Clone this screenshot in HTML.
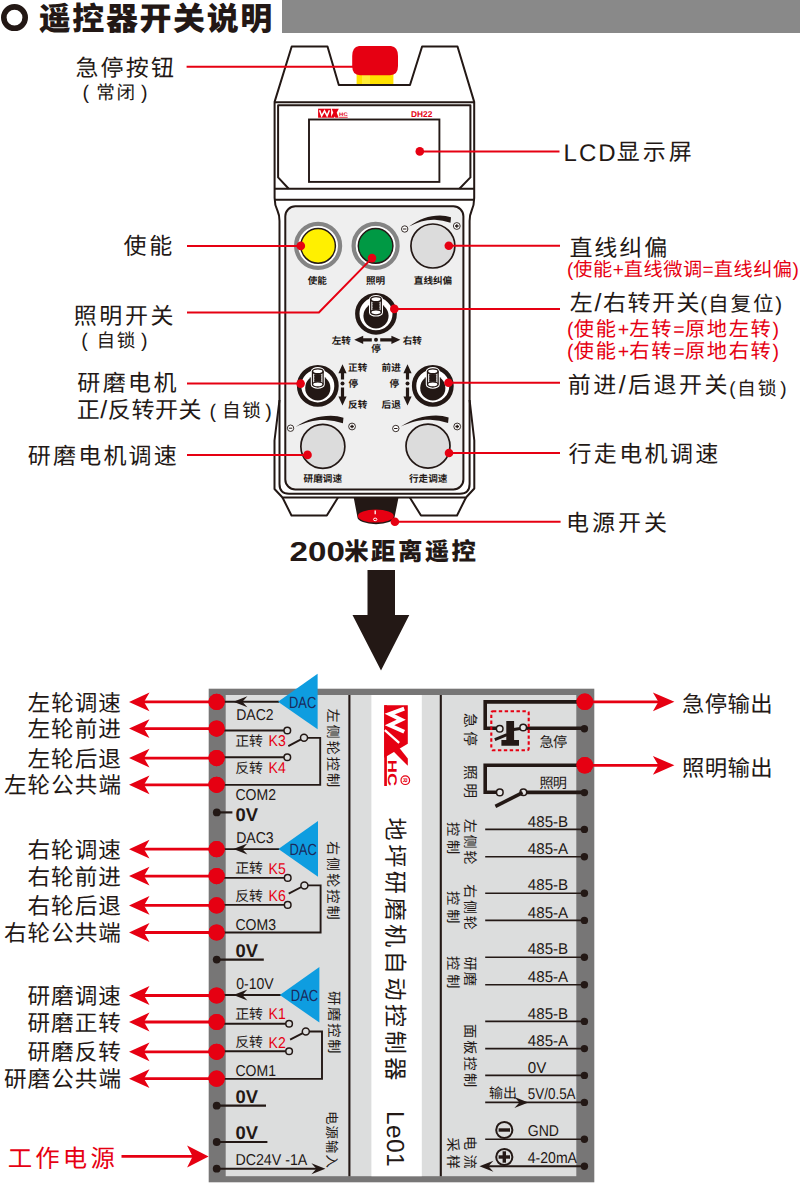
<!DOCTYPE html><html lang="zh"><head><meta charset="utf-8"><title>遥控器开关说明</title><style>html,body{margin:0;padding:0;background:#fff}svg{display:block}text{font-family:"Liberation Sans","Noto Sans CJK SC",sans-serif;text-rendering:geometricPrecision}</style></head><body><svg width="800" height="1192" viewBox="0 0 800 1192"><rect width="800" height="1192" fill="#fff"/><rect x="282" y="0" width="518" height="33" fill="#898989"/><circle cx="14.5" cy="17.6" r="10.7" fill="none" stroke="#231815" stroke-width="5.6"/><g transform="translate(38.7 30)" fill="#231815" font-weight="900"><text x="0" font-size="32" textLength="233.64">遥控器开关说明</text></g><rect x="356.6" y="66" width="36.8" height="19" fill="#ffe100"/><rect x="362" y="66" width="8" height="19" fill="#fff35a" opacity=".6"/><path d="M359 46H391Q398 47 398 56V66Q398 75.2 390 75.2H360Q352.2 75.2 352.2 66V56Q352.2 47 359 46Z" fill="#e60012"/><path d="M291.7 46.5H327.5L338.8 85H410L422.1 46.5H457.5L474.2 101.9V198Q474.2 205 471.5 211Q469.6 215 469.6 221V484Q469.6 493.7 460 493.7H289Q279.5 493.7 279.5 484V221Q279.5 215 277.6 211Q274.6 205 274.6 198V101.9Z" fill="#fff" stroke="#231815" stroke-width="2" stroke-linejoin="round"/><path d="M279.5 400L274.5 440.5V489L282.5 497.5H466L474.3 488.5V440.5L469.6 400" fill="none" stroke="#231815" stroke-width="2" stroke-linejoin="round"/><path d="M274.6 102.2H474.2M274.6 188.7H474.2M274.6 199.7H474.2" fill="none" stroke="#231815" stroke-width="2" stroke-linejoin="round"/><path d="M288.7 188.7L278.1 177.4V105.2H470.4V177.4L459.4 188.7" fill="none" stroke="#231815" stroke-width="2" stroke-linejoin="round"/><rect x="309" y="119.5" width="130.4" height="62.4" fill="#fff" stroke="#231815" stroke-width="1.9"/><path d="M282.5 497.5L291.5 515.5H326.8L338 497.5M409.8 497.5L421 515.5H457L466 497.5" fill="none" stroke="#231815" stroke-width="2" stroke-linejoin="round"/><path d="M353.7 497.5H398.5L394.6 517A18.6 7.2 0 0 1 357.4 517Z" fill="#231815"/><ellipse cx="375.8" cy="516.1" rx="18" ry="6.5" fill="#e60012"/><path d="M375.2 510.4V514.2" stroke="#fff" stroke-width="1.3"/><ellipse cx="375.2" cy="519.4" rx="1.7" ry="1.3" fill="none" stroke="#fff" stroke-width="1"/><rect x="285.3" y="206.3" width="178.1" height="283.2" rx="10" fill="#efefef" stroke="#231815" stroke-width="2"/><g transform="translate(318.1 108.7)"><rect width="13" height="9" fill="#e60012"/><path d="M1.5 1.6L3.6 7.2L6.4 2.2L9 7.2L11.3 1.6" fill="none" stroke="#fff" stroke-width="1.5"/><path d="M12.5 9L17.3 0H20.7L15.9 9ZM13.6 0H17L20.6 9H17.2Z" fill="#e60012"/><path d="M21 8.6H29.6" stroke="#e60012" stroke-width=".8"/><text x="21" y="7.4" font-size="5.2" font-weight="700" fill="#e60012" textLength="8.6" lengthAdjust="spacingAndGlyphs">HC</text></g><text x="411" y="117.1" font-size="8.4" font-weight="700" fill="#e60012" textLength="21.3" lengthAdjust="spacingAndGlyphs">DH22</text><circle cx="318.1" cy="245.9" r="22" fill="#fff" stroke="#848484" stroke-width="4.2"/><circle cx="318.1" cy="245.9" r="17.3" fill="#fff000" stroke="#231815" stroke-width="1.5"/><circle cx="375.6" cy="245.9" r="22" fill="#fff" stroke="#848484" stroke-width="4.2"/><circle cx="375.6" cy="245.9" r="17.3" fill="#009944" stroke="#231815" stroke-width="1.5"/><g transform="translate(432.9 246)"><circle r="22" fill="#dcdcdc" stroke="#231815" stroke-width="1.7"/><path transform="scale(1 1)" d="M-23.9-19.5C-14-27-4-30.5 7-30.6Q13-30.4 18.1-28.7L17.6-23.2Q10-25.8 2-26.3C-7-26.6-15-24-23.9-19.5Z" fill="#231815"/><g transform="translate(-28.2 -17)"><circle r="3.2" fill="#fff" stroke="#231815" stroke-width=".9"/><path d="M-1.7 0H1.7" stroke="#231815" stroke-width="1"/></g><g transform="translate(23.9 -20)"><circle r="3.4" fill="#fff" stroke="#231815" stroke-width=".9"/><path d="M-1.8 0H1.8M0-1.8V1.8" stroke="#231815" stroke-width="1.3"/></g></g><g transform="translate(322.85 446.4)"><circle r="22" fill="#dcdcdc" stroke="#231815" stroke-width="1.7"/><path transform="scale(1.14 1)" d="M-23.9-19.5C-14-27-4-30.5 7-30.6Q13-30.4 18.1-28.7L17.6-23.2Q10-25.8 2-26.3C-7-26.6-15-24-23.9-19.5Z" fill="#231815"/><g transform="translate(-32.3 -18.2)"><circle r="3.2" fill="#fff" stroke="#231815" stroke-width=".9"/><path d="M-1.7 0H1.7" stroke="#231815" stroke-width="1"/></g><g transform="translate(29.2 -19.9)"><circle r="3.4" fill="#fff" stroke="#231815" stroke-width=".9"/><path d="M-1.8 0H1.8M0-1.8V1.8" stroke="#231815" stroke-width="1.3"/></g></g><g transform="translate(428 446.1)"><circle r="22" fill="#dcdcdc" stroke="#231815" stroke-width="1.7"/><path transform="scale(1.14 1)" d="M-23.9-19.5C-14-27-4-30.5 7-30.6Q13-30.4 18.1-28.7L17.6-23.2Q10-25.8 2-26.3C-7-26.6-15-24-23.9-19.5Z" fill="#231815"/><g transform="translate(-32.2 -17.6)"><circle r="3.2" fill="#fff" stroke="#231815" stroke-width=".9"/><path d="M-1.7 0H1.7" stroke="#231815" stroke-width="1"/></g><g transform="translate(29.2 -19.6)"><circle r="3.4" fill="#fff" stroke="#231815" stroke-width=".9"/><path d="M-1.8 0H1.8M0-1.8V1.8" stroke="#231815" stroke-width="1.3"/></g></g><g transform="translate(376 313.8)"><circle r="18.7" fill="#fff" stroke="#231815" stroke-width="4.4"/><circle cy="2" r="12.6" fill="#231815"/><path d="M-5.3-14.6V-1.4A5.3 2.5 0 0 0 5.3-1.4V-14.6A5.3 2.5 0 0 0-5.3-14.6Z" fill="#fff" stroke="#fff" stroke-width="3.4"/><path d="M-5.3-14.6V-1.4A5.3 2.5 0 0 0 5.3-1.4V-14.6A5.3 2.5 0 0 0-5.3-14.6Z" fill="#fff" stroke="#231815" stroke-width="1.3"/><path d="M-5.3-14.6A5.3 2.5 0 0 0 5.3-14.6M-3.4-10.6H3.4M-3.4-7.8H3.4M-3.4-5H3.4" fill="none" stroke="#231815" stroke-width="1.4"/><path d="M-3.5-11.5h7v7.4h-7z" fill="#231815"/><path d="M-5.3-1.4A5.3 2.5 0 0 1 5.3-1.4" fill="none" stroke="#231815" stroke-width="1.1"/></g><g transform="translate(317.8 385.9)"><circle r="18.7" fill="#fff" stroke="#231815" stroke-width="4.4"/><circle cy="2" r="12.6" fill="#231815"/><path d="M-5.3-14.6V-1.4A5.3 2.5 0 0 0 5.3-1.4V-14.6A5.3 2.5 0 0 0-5.3-14.6Z" fill="#fff" stroke="#fff" stroke-width="3.4"/><path d="M-5.3-14.6V-1.4A5.3 2.5 0 0 0 5.3-1.4V-14.6A5.3 2.5 0 0 0-5.3-14.6Z" fill="#fff" stroke="#231815" stroke-width="1.3"/><path d="M-5.3-14.6A5.3 2.5 0 0 0 5.3-14.6M-3.4-10.6H3.4M-3.4-7.8H3.4M-3.4-5H3.4" fill="none" stroke="#231815" stroke-width="1.4"/><path d="M-3.5-11.5h7v7.4h-7z" fill="#231815"/><path d="M-5.3-1.4A5.3 2.5 0 0 1 5.3-1.4" fill="none" stroke="#231815" stroke-width="1.1"/></g><g transform="translate(432.8 385.9)"><circle r="18.7" fill="#fff" stroke="#231815" stroke-width="4.4"/><circle cy="2" r="12.6" fill="#231815"/><path d="M-5.3-14.6V-1.4A5.3 2.5 0 0 0 5.3-1.4V-14.6A5.3 2.5 0 0 0-5.3-14.6Z" fill="#fff" stroke="#fff" stroke-width="3.4"/><path d="M-5.3-14.6V-1.4A5.3 2.5 0 0 0 5.3-1.4V-14.6A5.3 2.5 0 0 0-5.3-14.6Z" fill="#fff" stroke="#231815" stroke-width="1.3"/><path d="M-5.3-14.6A5.3 2.5 0 0 0 5.3-14.6M-3.4-10.6H3.4M-3.4-7.8H3.4M-3.4-5H3.4" fill="none" stroke="#231815" stroke-width="1.4"/><path d="M-3.5-11.5h7v7.4h-7z" fill="#231815"/><path d="M-5.3-1.4A5.3 2.5 0 0 1 5.3-1.4" fill="none" stroke="#231815" stroke-width="1.1"/></g><path d="M371.8 338.2H363.2V335.7L354.2 339.8L363.2 343.9V341.4H371.8Z" fill="#231815"/><path d="M380.2 338.2H391.4V335.7L400.4 339.8L391.4 343.9V341.4H380.2Z" fill="#231815"/><circle cx="376" cy="339.8" r="2" fill="#231815"/><path d="M340.9 379.6V373.2H338.4L342.5 364.2L346.6 373.2H344.1V379.6Z" fill="#231815"/><path d="M340.9 387.4V396.4H338.4L342.5 405.4L346.6 396.4H344.1V387.4Z" fill="#231815"/><circle cx="342.5" cy="383.5" r="2" fill="#231815"/><path d="M405.9 379.6V373.2H403.4L407.5 364.2L411.6 373.2H409.1V379.6Z" fill="#231815"/><path d="M405.9 387.4V396.4H403.4L407.5 405.4L411.6 396.4H409.1V387.4Z" fill="#231815"/><circle cx="407.5" cy="383.5" r="2" fill="#231815"/><g transform="translate(317.3 284)" fill="#231815" font-weight="700"><text x="-9.6" font-size="9.6" textLength="19.2">使能</text></g><g transform="translate(375.6 284)" fill="#231815" font-weight="700"><text x="-9.6" font-size="9.6" textLength="19.2">照明</text></g><g transform="translate(433 284)" fill="#231815" font-weight="700"><text x="-19.2" font-size="9.6" textLength="38.4">直线纠偏</text></g><g transform="translate(341.3 343.7)" fill="#231815" font-weight="700"><text x="-9.6" font-size="9.6" textLength="19.2">左转</text></g><g transform="translate(412.3 343.7)" fill="#231815" font-weight="700"><text x="-9.6" font-size="9.6" textLength="19.2">右转</text></g><g transform="translate(376 352.2)" fill="#231815" font-weight="700"><text x="-4.8" font-size="9.6" textLength="9.6">停</text></g><g transform="translate(348.1 371.2)" fill="#231815" font-weight="700"><text x="0" font-size="9.6" textLength="19.2">正转</text></g><g transform="translate(348.6 387.3)" fill="#231815" font-weight="700"><text x="0" font-size="9.6" textLength="9.6">停</text></g><g transform="translate(348.1 407.9)" fill="#231815" font-weight="700"><text x="0" font-size="9.6" textLength="19.2">反转</text></g><g transform="translate(400.8 371.2)" fill="#231815" font-weight="700"><text x="-19.2" font-size="9.6" textLength="19.2">前进</text></g><g transform="translate(399 387.3)" fill="#231815" font-weight="700"><text x="-9.6" font-size="9.6" textLength="9.6">停</text></g><g transform="translate(400.8 407.9)" fill="#231815" font-weight="700"><text x="-19.2" font-size="9.6" textLength="19.2">后退</text></g><g transform="translate(322.8 481.5)" fill="#231815" font-weight="700"><text x="-19.2" font-size="9.6" textLength="38.4">研磨调速</text></g><g transform="translate(428.2 481.5)" fill="#231815" font-weight="700"><text x="-19.2" font-size="9.6" textLength="38.4">行走调速</text></g><path d="M186.6 66.8H353" fill="none" stroke="#e60012" stroke-width="2"/><path d="M419.8 151.4H559.5" fill="none" stroke="#e60012" stroke-width="2"/><circle cx="419.8" cy="151.4" r="4.3" fill="#e60012"/><path d="M187 245.9H300.8" fill="none" stroke="#e60012" stroke-width="2"/><circle cx="300.8" cy="245.9" r="4.3" fill="#e60012"/><path d="M187 312.4H318.9L372 258.1" fill="none" stroke="#e60012" stroke-width="2"/><circle cx="372" cy="258.1" r="4.3" fill="#e60012"/><path d="M448.8 245.8H560" fill="none" stroke="#e60012" stroke-width="2"/><circle cx="448.8" cy="245.8" r="4.3" fill="#e60012"/><path d="M394.3 308.9H560" fill="none" stroke="#e60012" stroke-width="2"/><circle cx="394.3" cy="308.9" r="4.3" fill="#e60012"/><path d="M187 383.6H300.6" fill="none" stroke="#e60012" stroke-width="2"/><circle cx="300.6" cy="383.6" r="4.3" fill="#e60012"/><path d="M448.5 382.8H560" fill="none" stroke="#e60012" stroke-width="2"/><circle cx="448.5" cy="382.8" r="4.3" fill="#e60012"/><path d="M187 454.9H307.5" fill="none" stroke="#e60012" stroke-width="2"/><circle cx="307.5" cy="454.9" r="4.3" fill="#e60012"/><path d="M449 453H560" fill="none" stroke="#e60012" stroke-width="2"/><circle cx="449" cy="453" r="4.3" fill="#e60012"/><path d="M394.9 521.8H560.6" fill="none" stroke="#e60012" stroke-width="2"/><circle cx="394.9" cy="521.8" r="4.3" fill="#e60012"/><g transform="translate(75.43 75.8)" fill="#231815"><text x="0" font-size="23" textLength="98.51">急停按钮</text></g><text x="82.42" y="99.4" font-size="19.6" fill="#231815">(</text><g transform="translate(115.7 99.2)" fill="#231815"><text x="-19.4" font-size="18.6" textLength="38.8">常闭</text></g><text x="140.91" y="99.4" font-size="19.6" fill="#231815">)</text><g transform="translate(123.52 254.4)" fill="#231815"><text x="0" font-size="23" textLength="48.73">使能</text></g><g transform="translate(73.81 324)" fill="#231815"><text x="0" font-size="23" textLength="99.71">照明开关</text></g><text x="81.22" y="347" font-size="19.6" fill="#231815">(</text><g transform="translate(115.85 346.8)" fill="#231815"><text x="-19.4" font-size="18.6" textLength="38.8">自锁</text></g><text x="140.91" y="347" font-size="19.6" fill="#231815">)</text><g transform="translate(77.26 391)" fill="#231815"><text x="0" font-size="23" textLength="99.22">研磨电机</text></g><g transform="translate(76.8 417.6)" fill="#231815"><text x="0" font-size="23" textLength="23">正</text><text x="23.55" font-size="25" textLength="6.95" lengthAdjust="spacingAndGlyphs">/</text><text x="31.05" font-size="23" textLength="93.66">反转开关</text></g><text x="209.52" y="417.6" font-size="19.6" fill="#231815">(</text><g transform="translate(241.4 417.4)" fill="#231815"><text x="-19.4" font-size="18.6" textLength="38.8">自锁</text></g><text x="265.21" y="417.6" font-size="19.6" fill="#231815">)</text><g transform="translate(27.66 463.8)" fill="#231815"><text x="0" font-size="23" textLength="149.21">研磨电机调速</text></g><text x="563.5" y="160.8" font-size="24" fill="#231815" textLength="52.2" lengthAdjust="spacing">LCD</text><g transform="translate(616.68 160.4)" fill="#231815"><text x="0" font-size="23" textLength="75.14">显示屏</text></g><g transform="translate(569.44 255.6)" fill="#231815"><text x="0" font-size="23" textLength="97.79">直线纠偏</text></g><g transform="translate(567 275.6)" fill="#e60012"><text x="0" font-size="19">(</text><text x="6.33" font-size="19.2" textLength="38.9">使能</text><text x="45.73" font-size="19">+</text><text x="56.82" font-size="19.2" textLength="78.3">直线微调</text><text x="135.62" font-size="19">=</text><text x="146.72" font-size="19.2" textLength="78.3">直线纠偏</text><text x="225.52" font-size="19">)</text></g><g transform="translate(569.86 311)" fill="#231815"><text x="0" font-size="23" textLength="23">左</text><text x="24.54" font-size="25" textLength="6.95" lengthAdjust="spacingAndGlyphs">/</text><text x="33.03" font-size="23" textLength="96.63">右转开关</text></g><g transform="translate(700.2 310.6)" fill="#231815"><text x="0" font-size="20.5">(</text></g><g transform="translate(740.8 311)" fill="#231815"><text x="-32.7" font-size="20.6" textLength="65.4">自复位</text></g><g transform="translate(775.2 310.6)" fill="#231815"><text x="0" font-size="20.5">)</text></g><g transform="translate(567 336)" fill="#e60012"><text x="0" font-size="19.6" textLength="6.53" lengthAdjust="spacingAndGlyphs">(</text><text x="6.83" font-size="20.2" textLength="42.1">使能</text><text x="50.63" font-size="19.6" textLength="11.45" lengthAdjust="spacingAndGlyphs">+</text><text x="62.37" font-size="20.2" textLength="42.1">左转</text><text x="106.17" font-size="19.6" textLength="11.45" lengthAdjust="spacingAndGlyphs">=</text><text x="117.92" font-size="20.2" textLength="85.9">原地左转</text><text x="205.52" font-size="19.6" textLength="6.53" lengthAdjust="spacingAndGlyphs">)</text></g><g transform="translate(567 358.4)" fill="#e60012"><text x="0" font-size="19.6" textLength="6.53" lengthAdjust="spacingAndGlyphs">(</text><text x="6.83" font-size="20.2" textLength="42.1">使能</text><text x="50.63" font-size="19.6" textLength="11.45" lengthAdjust="spacingAndGlyphs">+</text><text x="62.37" font-size="20.2" textLength="42.1">右转</text><text x="106.17" font-size="19.6" textLength="11.45" lengthAdjust="spacingAndGlyphs">=</text><text x="117.92" font-size="20.2" textLength="85.9">原地右转</text><text x="205.52" font-size="19.6" textLength="6.53" lengthAdjust="spacingAndGlyphs">)</text></g><g transform="translate(567.78 393.4)" fill="#231815"><text x="0" font-size="23" textLength="48.45">前进</text><text x="50.9" font-size="25" textLength="6.95" lengthAdjust="spacingAndGlyphs">/</text><text x="60.29" font-size="23" textLength="99.35">后退开关</text></g><g transform="translate(729.2 395)" fill="#231815"><text x="0" font-size="19">(</text></g><g transform="translate(756.8 395.4)" fill="#231815"><text x="-19.7" font-size="18.8" textLength="39.4">自锁</text></g><g transform="translate(780.2 395)" fill="#231815"><text x="0" font-size="19">)</text></g><g transform="translate(568.42 462.4)" fill="#231815"><text x="0" font-size="23" textLength="149.95">行走电机调速</text></g><g transform="translate(566.1 530.6)" fill="#231815"><text x="0" font-size="23" textLength="100.82">电源开关</text></g><text x="289.6" y="561" font-size="27.4" font-weight="700" fill="#231815" textLength="55.2" lengthAdjust="spacingAndGlyphs">200</text><g transform="translate(344.16 560.4)" fill="#231815" font-weight="900"><text x="0" font-size="24.4" textLength="131.87">米距离遥控</text></g><path d="M367.5 570H395V615H409.3L381 670.5L352.5 615H367.5Z" fill="#231815"/><rect x="208.7" y="688.7" width="385.6" height="493.6" fill="#777676"/><rect x="225.7" y="695" width="350.6" height="481.2" fill="#dcdddd"/><rect x="371.4" y="695" width="50.4" height="481.2" fill="#fff"/><path d="M349.4 695V1176.2M440.8 695V1176.2" stroke="#231815" stroke-width="2.1"/><path d="M216.6 701.7H279" fill="none" stroke="#231815" stroke-width="1.9"/><path d="M233.4 701.7L247.4 696.2L242.4 701.7L247.4 707.2Z" fill="#231815"/><path d="M278 701.7L317.6 673.7V729.3Z" fill="#0e9de0"/><g transform="translate(289 707.9)" fill="#1b2a5c"><text x="0" font-size="16.2" textLength="27.36" lengthAdjust="spacingAndGlyphs">DAC</text></g><path d="M216.6 730.5H284.3" fill="none" stroke="#231815" stroke-width="1.9"/><path d="M216.6 757.2H284.3" fill="none" stroke="#231815" stroke-width="1.9"/><path d="M288.3 746.05L301 739.45M307.3 737.85H320.2V784.9H216.6" fill="none" stroke="#231815" stroke-width="1.9"/><circle cx="287.3" cy="730.5" r="3.3" fill="#dcdddd" stroke="#231815" stroke-width="1.5"/><circle cx="287.3" cy="757.2" r="3.3" fill="#dcdddd" stroke="#231815" stroke-width="1.5"/><circle cx="304" cy="737.85" r="3.5" fill="#dcdddd" stroke="#231815" stroke-width="1.5"/><circle cx="216.6" cy="701.9" r="8.1" fill="#e60012"/><circle cx="216.6" cy="728.6" r="8.1" fill="#e60012"/><circle cx="216.6" cy="758.1" r="8.1" fill="#e60012"/><circle cx="216.6" cy="784.8" r="8.1" fill="#e60012"/><g transform="translate(236.2 720.1)" fill="#231815"><text x="0" font-size="15.6" textLength="37.45" lengthAdjust="spacingAndGlyphs">DAC2</text></g><g transform="translate(235.2 745.7)" fill="#231815"><text x="0" font-size="13.9" textLength="27.8">正转</text></g><g transform="translate(268.6 745.9)" fill="#e60012"><text x="0" font-size="15.6" textLength="17.17" lengthAdjust="spacingAndGlyphs">K3</text></g><g transform="translate(235.2 773)" fill="#231815"><text x="0" font-size="13.9" textLength="27.8">反转</text></g><g transform="translate(268.6 773.2)" fill="#e60012"><text x="0" font-size="15.6" textLength="17.17" lengthAdjust="spacingAndGlyphs">K4</text></g><g transform="translate(235.4 800.1)" fill="#231815"><text x="0" font-size="15.6" textLength="40.56" lengthAdjust="spacingAndGlyphs">COM2</text></g><path d="M216.6 812.4H232.4" stroke="#231815" stroke-width="2.2"/><circle cx="216.8" cy="812.4" r="3.9" fill="#231815"/><g transform="translate(235.4 820.5)" fill="#231815"><text x="0" font-size="18.4" font-weight="700">0V</text></g><path d="M216.6 849.1H279.4" fill="none" stroke="#231815" stroke-width="1.9"/><path d="M233.4 849.1L247.4 843.6L242.4 849.1L247.4 854.6Z" fill="#231815"/><path d="M278.4 849.1L318 821.1V876.7Z" fill="#0e9de0"/><g transform="translate(289.4 855.3)" fill="#1b2a5c"><text x="0" font-size="16.2" textLength="27.36" lengthAdjust="spacingAndGlyphs">DAC</text></g><path d="M216.6 877.9H284.7" fill="none" stroke="#231815" stroke-width="1.9"/><path d="M216.6 904.9H284.7" fill="none" stroke="#231815" stroke-width="1.9"/><path d="M288.7 893.6L301.4 887M307.7 885.4H320.6V932.5H216.6" fill="none" stroke="#231815" stroke-width="1.9"/><circle cx="287.7" cy="877.9" r="3.3" fill="#dcdddd" stroke="#231815" stroke-width="1.5"/><circle cx="287.7" cy="904.9" r="3.3" fill="#dcdddd" stroke="#231815" stroke-width="1.5"/><circle cx="304.4" cy="885.4" r="3.5" fill="#dcdddd" stroke="#231815" stroke-width="1.5"/><circle cx="216.6" cy="849.2" r="8.1" fill="#e60012"/><circle cx="216.6" cy="876.1" r="8.1" fill="#e60012"/><circle cx="216.6" cy="905.4" r="8.1" fill="#e60012"/><circle cx="216.6" cy="932.5" r="8.1" fill="#e60012"/><g transform="translate(236.2 842.7)" fill="#231815"><text x="0" font-size="15.6" textLength="37.45" lengthAdjust="spacingAndGlyphs">DAC3</text></g><g transform="translate(235.2 873.3)" fill="#231815"><text x="0" font-size="13.9" textLength="27.8">正转</text></g><g transform="translate(268.6 873.5)" fill="#e60012"><text x="0" font-size="15.6" textLength="17.17" lengthAdjust="spacingAndGlyphs">K5</text></g><g transform="translate(235.2 900.9)" fill="#231815"><text x="0" font-size="13.9" textLength="27.8">反转</text></g><g transform="translate(268.6 901.1)" fill="#e60012"><text x="0" font-size="15.6" textLength="17.17" lengthAdjust="spacingAndGlyphs">K6</text></g><g transform="translate(235.4 929.7)" fill="#231815"><text x="0" font-size="15.6" textLength="40.56" lengthAdjust="spacingAndGlyphs">COM3</text></g><path d="M216.6 959.6H263.8" stroke="#231815" stroke-width="2.2"/><circle cx="216.7" cy="959.6" r="3.9" fill="#231815"/><g transform="translate(235.4 956.6)" fill="#231815"><text x="0" font-size="18.4" font-weight="700">0V</text></g><path d="M216.6 995H280.8" fill="none" stroke="#231815" stroke-width="1.9"/><path d="M233.4 995L247.4 989.5L242.4 995L247.4 1000.5Z" fill="#231815"/><path d="M279.8 995L319.4 967V1022.6Z" fill="#0e9de0"/><g transform="translate(290.8 1001.2)" fill="#1b2a5c"><text x="0" font-size="16.2" textLength="27.36" lengthAdjust="spacingAndGlyphs">DAC</text></g><path d="M216.6 1023.7H286.1" fill="none" stroke="#231815" stroke-width="1.9"/><path d="M216.6 1051.3H286.1" fill="none" stroke="#231815" stroke-width="1.9"/><path d="M290.1 1039.7L302.8 1033.1M309.1 1031.5H322V1078.9H216.6" fill="none" stroke="#231815" stroke-width="1.9"/><circle cx="289.1" cy="1023.7" r="3.3" fill="#dcdddd" stroke="#231815" stroke-width="1.5"/><circle cx="289.1" cy="1051.3" r="3.3" fill="#dcdddd" stroke="#231815" stroke-width="1.5"/><circle cx="305.8" cy="1031.5" r="3.5" fill="#dcdddd" stroke="#231815" stroke-width="1.5"/><circle cx="216.6" cy="995.5" r="8.1" fill="#e60012"/><circle cx="216.6" cy="1022" r="8.1" fill="#e60012"/><circle cx="216.6" cy="1051.8" r="8.1" fill="#e60012"/><circle cx="216.6" cy="1078.7" r="8.1" fill="#e60012"/><g transform="translate(236.2 988.6)" fill="#231815"><text x="0" font-size="15.6" textLength="37.47" lengthAdjust="spacingAndGlyphs">0-10V</text></g><g transform="translate(235.2 1019.1)" fill="#231815"><text x="0" font-size="13.9" textLength="27.8">正转</text></g><g transform="translate(268.6 1019.3)" fill="#e60012"><text x="0" font-size="15.6" textLength="17.17" lengthAdjust="spacingAndGlyphs">K1</text></g><g transform="translate(235.2 1047.3)" fill="#231815"><text x="0" font-size="13.9" textLength="27.8">反转</text></g><g transform="translate(268.6 1047.5)" fill="#e60012"><text x="0" font-size="15.6" textLength="17.17" lengthAdjust="spacingAndGlyphs">K2</text></g><g transform="translate(235.4 1076.1)" fill="#231815"><text x="0" font-size="15.6" textLength="40.56" lengthAdjust="spacingAndGlyphs">COM1</text></g><path d="M216.6 1105.7H266" stroke="#231815" stroke-width="2.2"/><circle cx="216.7" cy="1105.7" r="3.9" fill="#231815"/><g transform="translate(235.4 1102.7)" fill="#231815"><text x="0" font-size="18.4" font-weight="700">0V</text></g><path d="M216.6 1142H267.4" stroke="#231815" stroke-width="2.2"/><circle cx="216.7" cy="1142" r="3.9" fill="#231815"/><g transform="translate(235.4 1139)" fill="#231815"><text x="0" font-size="18.4" font-weight="700">0V</text></g><path d="M216.6 1168.8H318" stroke="#231815" stroke-width="2"/><path d="M325.4 1168.8L311.4 1163.3L316.4 1168.8L311.4 1174.3Z" fill="#231815"/><circle cx="216.7" cy="1168.7" r="3.9" fill="#231815"/><g transform="translate(235.4 1165)" fill="#231815"><text x="0" font-size="15.8" textLength="71.92" lengthAdjust="spacingAndGlyphs">DC24V -1A</text></g><g transform="translate(327.6 708.46) rotate(90)" fill="#231815"><text x="0" font-size="14.2" textLength="78.76">左侧轮控制</text></g><g transform="translate(327.6 840.92) rotate(90)" fill="#231815"><text x="0" font-size="14.2" textLength="78.81">右侧轮控制</text></g><g transform="translate(328.6 990.9) rotate(90)" fill="#231815"><text x="0" font-size="14.2" textLength="62.62">研磨控制</text></g><g transform="translate(327.4 1110.91) rotate(90)" fill="#231815"><text x="0" font-size="13.4" textLength="56.97">电源输入</text></g><g transform="translate(407.8 705.2) rotate(90)" fill="#e60012"><path d="M0 0H38.6L52.6 23.6H0Z"/><path d="M40.6 10.2L53.4 0H60.6L46.6 14Z"/><path d="M0 20.9H80.8V23.6H0Z"/><path d="M25 23L37.6 8.6" stroke="#fff" stroke-width="2.3" fill="none"/><path d="M3.4 3.6L8.8 18.2L14.6 6.6L20 18.2L26.6 3.6" fill="none" stroke="#fff" stroke-width="4" stroke-linejoin="miter"/><text x="54.6" y="19.7" font-size="12.6" font-weight="700" textLength="26.4" lengthAdjust="spacingAndGlyphs">HC</text><circle cx="75" cy="2.5" r="4.3" fill="none" stroke="#e60012" stroke-width="1.2"/><text x="72.9" y="4.8" font-size="6.2" font-weight="700">R</text></g><g transform="translate(387.2 817.56) rotate(90)" fill="#231815"><text x="0" font-size="23.2" textLength="262.96">地坪研磨机自动控制器</text></g><g transform="translate(387 1111) rotate(90)"><text font-size="24.6" fill="#231815" textLength="55.6" lengthAdjust="spacing">Le01</text></g><path d="M584.8 701.9H485.2V728.2H496.6" fill="none" stroke="#231815" stroke-width="3.6" stroke-linejoin="miter"/><path d="M526.4 728.2H584.8" fill="none" stroke="#231815" stroke-width="3.6" stroke-linejoin="miter"/><rect x="491.3" y="711.3" width="37.4" height="39" rx="1.6" fill="none" stroke="#e60012" stroke-width="2.1" stroke-dasharray="3.4 2.5"/><path d="M506.3 721H514.1V740.1H519V745.8H501.4V740.1H506.3Z" fill="#231815"/><path d="M494.8 739.6L507 734.6M513.6 729.6L520.4 728.4" stroke="#231815" stroke-width="3" fill="none"/><circle cx="499.7" cy="728.8" r="3.3" fill="#e6e6e6" stroke="#231815" stroke-width="1.5"/><circle cx="523.2" cy="727.5" r="3.3" fill="#e6e6e6" stroke="#231815" stroke-width="1.5"/><circle cx="584.4" cy="728.8" r="3.7" fill="#231815"/><path d="M584.8 765.2H485.2V792.2H496.6" fill="none" stroke="#231815" stroke-width="3.6" stroke-linejoin="miter"/><path d="M526.4 792.4H584.8" fill="none" stroke="#231815" stroke-width="3.6" stroke-linejoin="miter"/><circle cx="499.8" cy="792.4" r="3.3" fill="#e6e6e6" stroke="#231815" stroke-width="1.5"/><circle cx="523.4" cy="792.2" r="3.3" fill="#e6e6e6" stroke="#231815" stroke-width="1.5"/><path d="M495.4 806.4L522.6 792.6" stroke="#231815" stroke-width="3.5" fill="none"/><circle cx="584.4" cy="792.6" r="3.7" fill="#231815"/><circle cx="584.8" cy="701.8" r="8.3" fill="#e60012"/><circle cx="584.8" cy="765.3" r="8.3" fill="#e60012"/><g transform="translate(539.4 746.6)" fill="#231815"><text x="0" font-size="14.2" textLength="27.69">急停</text></g><g transform="translate(539.39 788.4)" fill="#231815"><text x="0" font-size="14.2" textLength="27.53">照明</text></g><g transform="translate(465.2 713.12) rotate(90)" fill="#231815"><text x="0" font-size="14.8" textLength="32.88">急停</text></g><g transform="translate(465.2 764.9) rotate(90)" fill="#231815"><text x="0" font-size="14.8" textLength="33.27">照明</text></g><path d="M485.2 829.4H584.8" stroke="#231815" stroke-width="1.6"/><circle cx="584.4" cy="829.4" r="3.7" fill="#231815"/><g transform="translate(527.8 826.5)" fill="#231815"><text x="0" font-size="15.6" textLength="40.38" lengthAdjust="spacingAndGlyphs">485-B</text></g><path d="M485.2 856.8H584.8" stroke="#231815" stroke-width="1.6"/><circle cx="584.4" cy="856.8" r="3.7" fill="#231815"/><g transform="translate(527.8 853.9)" fill="#231815"><text x="0" font-size="15.6" textLength="40.38" lengthAdjust="spacingAndGlyphs">485-A</text></g><path d="M485.2 893.2H584.8" stroke="#231815" stroke-width="1.6"/><circle cx="584.4" cy="893.2" r="3.7" fill="#231815"/><g transform="translate(527.8 890.3)" fill="#231815"><text x="0" font-size="15.6" textLength="40.38" lengthAdjust="spacingAndGlyphs">485-B</text></g><path d="M485.2 920.4H584.8" stroke="#231815" stroke-width="1.6"/><circle cx="584.4" cy="920.4" r="3.7" fill="#231815"/><g transform="translate(527.8 917.5)" fill="#231815"><text x="0" font-size="15.6" textLength="40.38" lengthAdjust="spacingAndGlyphs">485-A</text></g><path d="M485.2 957.2H584.8" stroke="#231815" stroke-width="1.6"/><circle cx="584.4" cy="957.2" r="3.7" fill="#231815"/><g transform="translate(527.8 954.3)" fill="#231815"><text x="0" font-size="15.6" textLength="40.38" lengthAdjust="spacingAndGlyphs">485-B</text></g><path d="M485.2 984.8H584.8" stroke="#231815" stroke-width="1.6"/><circle cx="584.4" cy="984.8" r="3.7" fill="#231815"/><g transform="translate(527.8 981.9)" fill="#231815"><text x="0" font-size="15.6" textLength="40.38" lengthAdjust="spacingAndGlyphs">485-A</text></g><path d="M485.2 1021.4H584.8" stroke="#231815" stroke-width="1.6"/><circle cx="584.4" cy="1021.4" r="3.7" fill="#231815"/><g transform="translate(527.8 1018.5)" fill="#231815"><text x="0" font-size="15.6" textLength="40.38" lengthAdjust="spacingAndGlyphs">485-B</text></g><path d="M485.2 1048.6H584.8" stroke="#231815" stroke-width="1.6"/><circle cx="584.4" cy="1048.6" r="3.7" fill="#231815"/><g transform="translate(527.8 1045.7)" fill="#231815"><text x="0" font-size="15.6" textLength="40.38" lengthAdjust="spacingAndGlyphs">485-A</text></g><path d="M485.2 1075.4H584.8" stroke="#231815" stroke-width="1.6"/><circle cx="584.4" cy="1075.4" r="3.7" fill="#231815"/><g transform="translate(527.8 1072.5)" fill="#231815"><text x="0" font-size="15.6" textLength="18.51" lengthAdjust="spacingAndGlyphs">0V</text></g><g transform="translate(465 818.76) rotate(90)" fill="#231815"><text x="0" font-size="14.2" textLength="45.85">左侧轮</text></g><g transform="translate(448.2 822.1) rotate(90)" fill="#231815"><text x="0" font-size="14.2" textLength="32.02">控制</text></g><g transform="translate(465 884.12) rotate(90)" fill="#231815"><text x="0" font-size="14.2" textLength="45.89">右侧轮</text></g><g transform="translate(448.2 890.9) rotate(90)" fill="#231815"><text x="0" font-size="14.2" textLength="32.62">控制</text></g><g transform="translate(465 956.5) rotate(90)" fill="#231815"><text x="0" font-size="14.2" textLength="29.45">研磨</text></g><g transform="translate(448.2 955.9) rotate(90)" fill="#231815"><text x="0" font-size="14.2" textLength="32.62">控制</text></g><g transform="translate(465 1023.89) rotate(90)" fill="#231815"><text x="0" font-size="14.2" textLength="63.23">面板控制</text></g><path d="M485.2 1102.4H584.8" stroke="#231815" stroke-width="1.9"/><path d="M528.4 1102.4L514.4 1096.9L519.4 1102.4L514.4 1107.9Z" fill="#231815"/><circle cx="584.4" cy="1102.4" r="3.7" fill="#231815"/><g transform="translate(489 1098.4)" fill="#231815"><text x="0" font-size="14" textLength="28">输出</text></g><g transform="translate(527.8 1099)" fill="#231815"><text x="0" font-size="15.6" textLength="47.74" lengthAdjust="spacingAndGlyphs">5V/0.5A</text></g><path d="M485.2 1139.2H584.8" stroke="#231815" stroke-width="1.6"/><circle cx="584.4" cy="1139.2" r="3.7" fill="#231815"/><g transform="translate(527.8 1135.8)" fill="#231815"><text x="0" font-size="15.6" textLength="31.2" lengthAdjust="spacingAndGlyphs">GND</text></g><path d="M486 1166.2H584.8" stroke="#231815" stroke-width="1.9"/><path d="M479.4 1166.2L493.4 1160.7L488.4 1166.2L493.4 1171.7Z" fill="#231815"/><circle cx="584.4" cy="1166.2" r="3.7" fill="#231815"/><g transform="translate(527.8 1162.8)" fill="#231815"><text x="0" font-size="15.6" textLength="49.16" lengthAdjust="spacingAndGlyphs">4-20mA</text></g><circle cx="504.3" cy="1130" r="8.1" fill="none" stroke="#231815" stroke-width="2"/><path d="M498.6 1130H510" stroke="#231815" stroke-width="3.4"/><circle cx="504.3" cy="1157" r="8.1" fill="none" stroke="#231815" stroke-width="2"/><path d="M498.6 1157H510" stroke="#231815" stroke-width="3.4"/><path d="M504.3 1151.3V1162.7" stroke="#231815" stroke-width="3.4"/><g transform="translate(465 1136.03) rotate(90)" fill="#231815"><text x="0" font-size="14.2" textLength="32.73">电流</text></g><g transform="translate(448.2 1137.47) rotate(90)" fill="#231815"><text x="0" font-size="14.2" textLength="31.56">采样</text></g><path d="M216.6 701.9H143" stroke="#e60012" stroke-width="2.8" fill="none"/><path d="M129 701.9L149.5 692.5L144 701.9L149.5 711.3Z" fill="#e60012"/><g transform="translate(27.57 710.5)" fill="#231815"><text x="0" font-size="22.6" textLength="93.29">左轮调速</text></g><path d="M216.6 728.6H143" stroke="#e60012" stroke-width="2.8" fill="none"/><path d="M129 728.6L149.5 719.2L144 728.6L149.5 738Z" fill="#e60012"/><g transform="translate(27.57 737.2)" fill="#231815"><text x="0" font-size="22.6" textLength="93.25">左轮前进</text></g><path d="M216.6 758.1H143" stroke="#e60012" stroke-width="2.8" fill="none"/><path d="M129 758.1L149.5 748.7L144 758.1L149.5 767.5Z" fill="#e60012"/><g transform="translate(27.57 766.7)" fill="#231815"><text x="0" font-size="22.6" textLength="93.25">左轮后退</text></g><path d="M216.6 784.8H143" stroke="#e60012" stroke-width="2.8" fill="none"/><path d="M129 784.8L149.5 775.4L144 784.8L149.5 794.2Z" fill="#e60012"/><g transform="translate(3.97 793.4)" fill="#231815"><text x="0" font-size="22.6" textLength="117">左轮公共端</text></g><path d="M216.6 849.2H143" stroke="#e60012" stroke-width="2.8" fill="none"/><path d="M129 849.2L149.5 839.8L144 849.2L149.5 858.6Z" fill="#e60012"/><g transform="translate(27.5 857.8)" fill="#231815"><text x="0" font-size="22.6" textLength="93.36">右轮调速</text></g><path d="M216.6 876.1H143" stroke="#e60012" stroke-width="2.8" fill="none"/><path d="M129 876.1L149.5 866.7L144 876.1L149.5 885.5Z" fill="#e60012"/><g transform="translate(27.5 884.7)" fill="#231815"><text x="0" font-size="22.6" textLength="93.31">右轮前进</text></g><path d="M216.6 905.4H143" stroke="#e60012" stroke-width="2.8" fill="none"/><path d="M129 905.4L149.5 896L144 905.4L149.5 914.8Z" fill="#e60012"/><g transform="translate(27.5 914)" fill="#231815"><text x="0" font-size="22.6" textLength="93.31">右轮后退</text></g><path d="M216.6 932.5H143" stroke="#e60012" stroke-width="2.8" fill="none"/><path d="M129 932.5L149.5 923.1L144 932.5L149.5 941.9Z" fill="#e60012"/><g transform="translate(3.9 941.1)" fill="#231815"><text x="0" font-size="22.6" textLength="117.07">右轮公共端</text></g><path d="M216.6 995.5H143" stroke="#e60012" stroke-width="2.8" fill="none"/><path d="M129 995.5L149.5 986.1L144 995.5L149.5 1004.9Z" fill="#e60012"/><g transform="translate(27.48 1004.1)" fill="#231815"><text x="0" font-size="22.6" textLength="93.38">研磨调速</text></g><path d="M216.6 1022H143" stroke="#e60012" stroke-width="2.8" fill="none"/><path d="M129 1022L149.5 1012.6L144 1022L149.5 1031.4Z" fill="#e60012"/><g transform="translate(27.48 1030.6)" fill="#231815"><text x="0" font-size="22.6" textLength="93.45">研磨正转</text></g><path d="M216.6 1051.8H143" stroke="#e60012" stroke-width="2.8" fill="none"/><path d="M129 1051.8L149.5 1042.4L144 1051.8L149.5 1061.2Z" fill="#e60012"/><g transform="translate(27.48 1060.4)" fill="#231815"><text x="0" font-size="22.6" textLength="93.45">研磨反转</text></g><path d="M216.6 1078.7H143" stroke="#e60012" stroke-width="2.8" fill="none"/><path d="M129 1078.7L149.5 1069.3L144 1078.7L149.5 1088.1Z" fill="#e60012"/><g transform="translate(3.88 1087.3)" fill="#231815"><text x="0" font-size="22.6" textLength="117.1">研磨公共端</text></g><circle cx="216.6" cy="701.9" r="8.1" fill="#e60012"/><circle cx="216.6" cy="728.6" r="8.1" fill="#e60012"/><circle cx="216.6" cy="758.1" r="8.1" fill="#e60012"/><circle cx="216.6" cy="784.8" r="8.1" fill="#e60012"/><circle cx="216.6" cy="849.2" r="8.1" fill="#e60012"/><circle cx="216.6" cy="876.1" r="8.1" fill="#e60012"/><circle cx="216.6" cy="905.4" r="8.1" fill="#e60012"/><circle cx="216.6" cy="932.5" r="8.1" fill="#e60012"/><circle cx="216.6" cy="995.5" r="8.1" fill="#e60012"/><circle cx="216.6" cy="1022" r="8.1" fill="#e60012"/><circle cx="216.6" cy="1051.8" r="8.1" fill="#e60012"/><circle cx="216.6" cy="1078.7" r="8.1" fill="#e60012"/><path d="M121.5 1156.4H193.6" stroke="#e60012" stroke-width="2.8" fill="none"/><path d="M208.6 1156.4L187.1 1145.4L192.6 1156.4L187.1 1167.4Z" fill="#e60012"/><g transform="translate(7.73 1166.6)" fill="#e60012"><text x="0" font-size="24.4" textLength="107.07">工作电源</text></g><path d="M584.8 701.8H659.4" stroke="#e60012" stroke-width="2.8" fill="none"/><path d="M674.4 701.8L652.9 692.4L658.4 701.8L652.9 711.2Z" fill="#e60012"/><path d="M584.8 765.3H659.4" stroke="#e60012" stroke-width="2.8" fill="none"/><path d="M674.4 765.3L652.9 755.9L658.4 765.3L652.9 774.7Z" fill="#e60012"/><circle cx="584.8" cy="701.8" r="8.3" fill="#e60012"/><circle cx="584.8" cy="765.3" r="8.3" fill="#e60012"/><g transform="translate(682 712)" fill="#231815"><text x="0" font-size="22.4" textLength="90.65">急停输出</text></g><g transform="translate(682 775.6)" fill="#231815"><text x="0" font-size="22.4" textLength="90.65">照明输出</text></g></svg></body></html>
